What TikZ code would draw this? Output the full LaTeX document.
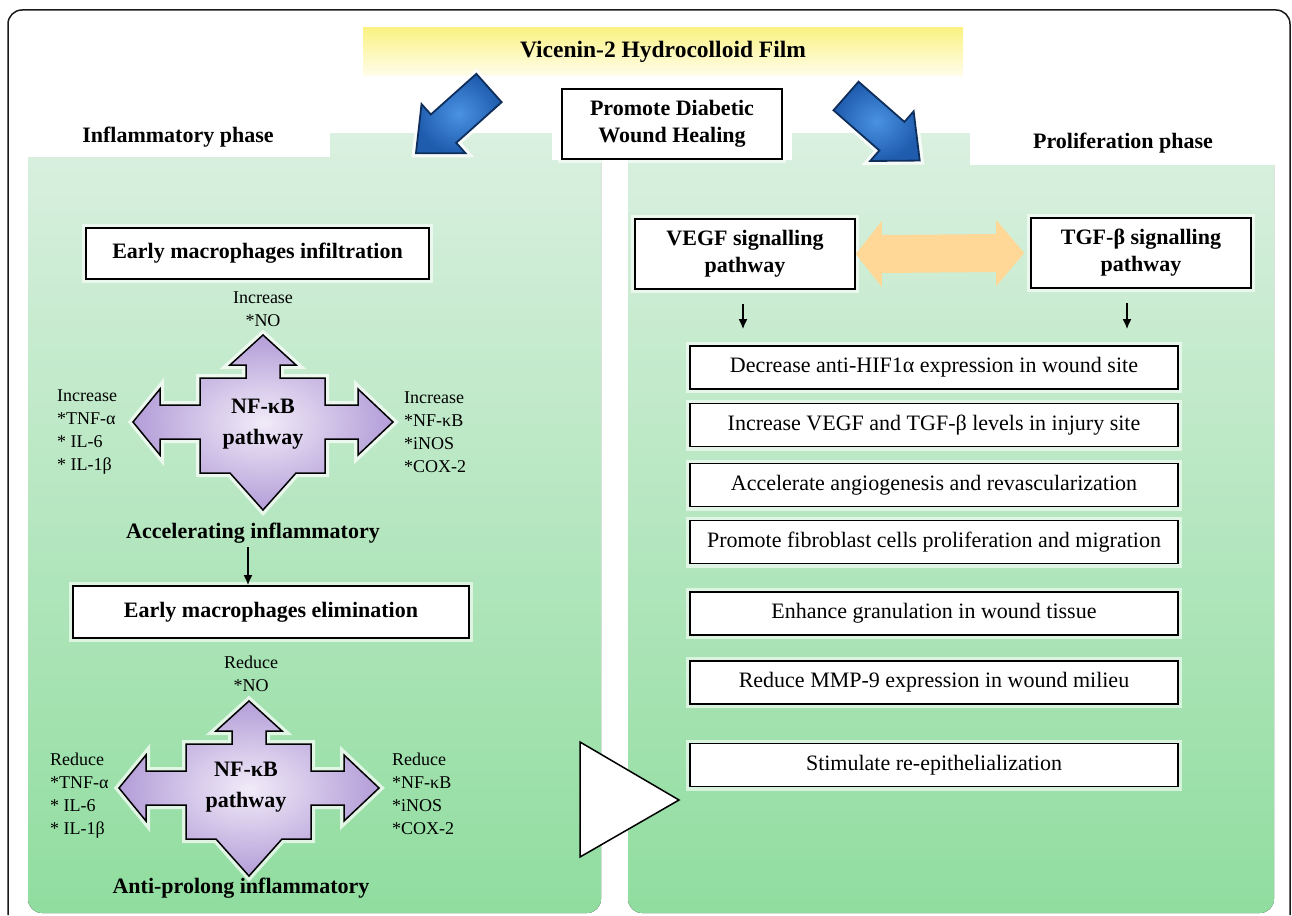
\documentclass[tikz,border=0pt]{standalone}
\usepackage{fontspec}
\setmainfont{Liberation Serif}
\usepackage{tikz}
\usepackage{xcolor}
\usetikzlibrary{arrows.meta,calc,positioning}
\definecolor{Frame_Black}{HTML}{1A1A1A}
\definecolor{Film_Yellow}{HTML}{FBF283}
\definecolor{Film_Pale}{HTML}{FFFDEB}
\definecolor{Panel_Top}{HTML}{DAF0E0}
\definecolor{Panel_Bottom}{HTML}{90DD9F}
\definecolor{Arrow_Blue}{HTML}{1F5CAE}
\definecolor{Arrow_Light}{HTML}{4A92E2}
\definecolor{Arrow_Dark}{HTML}{0E2E5C}
\definecolor{Cross_Light}{HTML}{F1EBF8}
\definecolor{Cross_Purple}{HTML}{B39DD8}
\definecolor{Link_Orange}{HTML}{FFD898}
\newcommand{\headfnt}{\fontsize{22}{27}\selectfont}
\newcommand{\filmfnt}{\fontsize{23.5}{28}\selectfont}
\newcommand{\crossfnt}{\fontsize{22}{31}\selectfont}
\newcommand{\smallfnt}{\fontsize{18}{23}\selectfont}
% four-way NF-kB arrow round a centre
\newcommand{\nfkbcross}[1]{%
  \draw[crossarrow, shift={#1}] (0,-87) -- (33,-57) -- (17,-57) -- (17,-44) -- (62,-44) -- (62,-17) -- (95,-17) -- (95,-33) -- (130,0) -- (95,33) -- (95,17) -- (62,17) -- (62,51) -- (33,51) -- (0,88) -- (-33,51) -- (-63,51) -- (-63,17) -- (-103,17) -- (-103,33) -- (-130,0) -- (-103,-33) -- (-103,-17) -- (-63,-17) -- (-63,-44) -- (-17,-44) -- (-17,-57) -- (-33,-57) -- cycle;}

\begin{document}
\begin{tikzpicture}[x=1pt, y=-1pt, >={Latex[length=10pt,width=9pt]},
    headtext/.style={font=\headfnt\bfseries, inner sep=0pt, align=center},
    smalltext/.style={font=\smallfnt, inner sep=0pt},
    whitebox/.style={draw=black, line width=1.6pt, fill=white, inner sep=0pt, align=center, preaction={draw=white, line width=8pt, opacity=0.6}},
    panel/.style={rounded corners=14pt, top color=Panel_Top, bottom color=Panel_Bottom},
    blockarrow/.style={draw=Arrow_Dark, line width=1.8pt, inner color=Arrow_Light, outer color=Arrow_Blue, preaction={draw=white, line width=8pt, opacity=0.8}},
    crossarrow/.style={draw=black, line width=1.5pt, inner color=Cross_Light, outer color=Cross_Purple, preaction={draw=white, line width=8pt, opacity=0.7}},
    steparrow/.style={->, line width=1.8pt}]
    \useasboundingbox (0,0) rectangle (1292,915);

    % Outer frame
    \draw[Frame_Black, line width=1.5pt, rounded corners=14pt] (8,915) -- (8,10) -- (1290,10) -- (1290,915);

    % Film banner
    \node[headtext, font=\filmfnt\bfseries, minimum width=600pt, minimum height=48pt, top color=Film_Yellow, bottom color=Film_Pale] (film) at (663,52) {Vicenin-2 Hydrocolloid Film};

    % Phase panels
    \fill[panel] (28,133) rectangle (601,913);
    \fill[panel] (628,133) rectangle (1274,913);
    \fill[white] (20,112) rectangle (330,157);
    \fill[white] (552,112) rectangle (792,160);
    \fill[white] (970,112) rectangle (1288,165);
    \node[headtext] (inflam) at (178,137) {Inflammatory phase};
    \node[headtext] (prolif) at (1123,143) {Proliferation phase};

    % Central goal
    \node[whitebox, font=\headfnt\bfseries, minimum width=220pt, minimum height=70pt] (goal) at (672,124) {Promote Diabetic\\Wound Healing};

    % Blue arrows
    \begin{scope}[shift={(489,88)}, rotate=221.8]
        \draw[blockarrow] (0,-19) -- (61,-19) -- (61,-33) -- (98,0) -- (61,33) -- (61,19) -- (0,19) -- cycle;
    \end{scope}
    \begin{scope}[shift={(846,96)}, rotate=-41.2]
        \draw[blockarrow] (0,-19) -- (61,-19) -- (61,-33) -- (98,0) -- (61,33) -- (61,19) -- (0,19) -- cycle;
    \end{scope}

    % Inflammatory phase
    \node[whitebox, font=\headfnt\bfseries, minimum width=343pt, minimum height=51pt] (infil) at (257.5,253.5) {Early macrophages infiltration};
    \node[smalltext, align=center] (noup) at (263,309) {Increase\\*NO};
    \nfkbcross{(263,422)}
    \node[headtext, font=\crossfnt\bfseries] (nfkbA) at (263,424) {NF-κB\\pathway};
    \node[smalltext, align=left, anchor=west] (incL) at (57,432) {Increase\\*TNF-α\\* IL-6\\* IL-1β};
    \node[smalltext, align=left, anchor=west] (incR) at (404,432) {Increase\\*NF-κB\\*iNOS\\*COX-2};
    \node[headtext] (accel) at (253,533) {Accelerating inflammatory};
    \node[whitebox, font=\headfnt\bfseries, minimum width=396pt, minimum height=52pt] (elim) at (271,612) {Early macrophages elimination};
    \draw[steparrow, shorten <=4pt] ([xshift=-5pt]accel.south) -- ([xshift=-5pt]accel.south |- elim.north);

    \node[smalltext, align=center] (nodown) at (251,674) {Reduce\\*NO};
    \nfkbcross{(249,788)}
    \node[headtext, font=\crossfnt\bfseries] (nfkbB) at (246,787) {NF-κB\\pathway};
    \node[smalltext, align=left, anchor=west] (redL) at (50,796) {Reduce\\*TNF-α\\* IL-6\\* IL-1β};
    \node[smalltext, align=left, anchor=west] (redR) at (392,794) {Reduce\\*NF-κB\\*iNOS\\*COX-2};
    \node[headtext] (antip) at (241,888) {Anti-prolong inflammatory};

    % Hand-over triangle
    \draw[line width=1.5pt, fill=white] (580,742) -- (679,800) -- (580,857) -- cycle;

    % Proliferation phase
    \node[whitebox, font=\headfnt\bfseries, minimum width=220pt, minimum height=70pt] (vegf) at (745,254) {VEGF signalling\\pathway};
    \node[whitebox, font=\headfnt\bfseries, minimum width=220pt, minimum height=70pt] (tgf) at (1141,253) {TGF-β signalling\\pathway};
    \coordinate (la) at (vegf.east);
    \coordinate (ra) at ($(tgf.west)+(-6,0)$);
    \fill[Link_Orange] (la) -- ($(la)+(26,-33)$) -- ($(la)+(26,-19)$) -- ($(ra)+(-28,-19)$) -- ($(ra)+(-28,-33)$) -- (ra) -- ($(ra)+(-28,33)$) -- ($(ra)+(-28,19)$) -- ($(la)+(26,19)$) -- ($(la)+(26,33)$) -- cycle;

    \node[whitebox, font=\headfnt, minimum width=488pt, minimum height=43pt] (hif) at (934,367.5) {Decrease anti-HIF1α expression in wound site};
    \node[whitebox, font=\headfnt, minimum width=488pt, minimum height=43pt] (levels) at (934,425) {Increase VEGF and TGF-β levels in injury site};
    \node[whitebox, font=\headfnt, minimum width=488pt, minimum height=43pt] (angio) at (934,485) {Accelerate angiogenesis and revascularization};
    \node[whitebox, font=\headfnt, minimum width=488pt, minimum height=43pt] (fibro) at (934,542) {Promote fibroblast cells proliferation and migration};
    \node[whitebox, font=\headfnt, minimum width=488pt, minimum height=43pt] (gran) at (934,613.5) {Enhance granulation in wound tissue};
    \node[whitebox, font=\headfnt, minimum width=488pt, minimum height=43pt] (mmp) at (934,682.5) {Reduce MMP-9 expression in wound milieu};
    \node[whitebox, font=\headfnt, minimum width=488pt, minimum height=43pt] (epi) at (934,765) {Stimulate re-epithelialization};

    \draw[steparrow, shorten <=14pt, shorten >=16pt] ([xshift=-2pt]vegf.south) -- ([xshift=-2pt]vegf.south |- hif.north);
    \draw[steparrow, shorten <=14pt, shorten >=16pt] ([xshift=-14pt]tgf.south) -- ([xshift=-14pt]tgf.south |- hif.north);

\end{tikzpicture}
\end{document}
